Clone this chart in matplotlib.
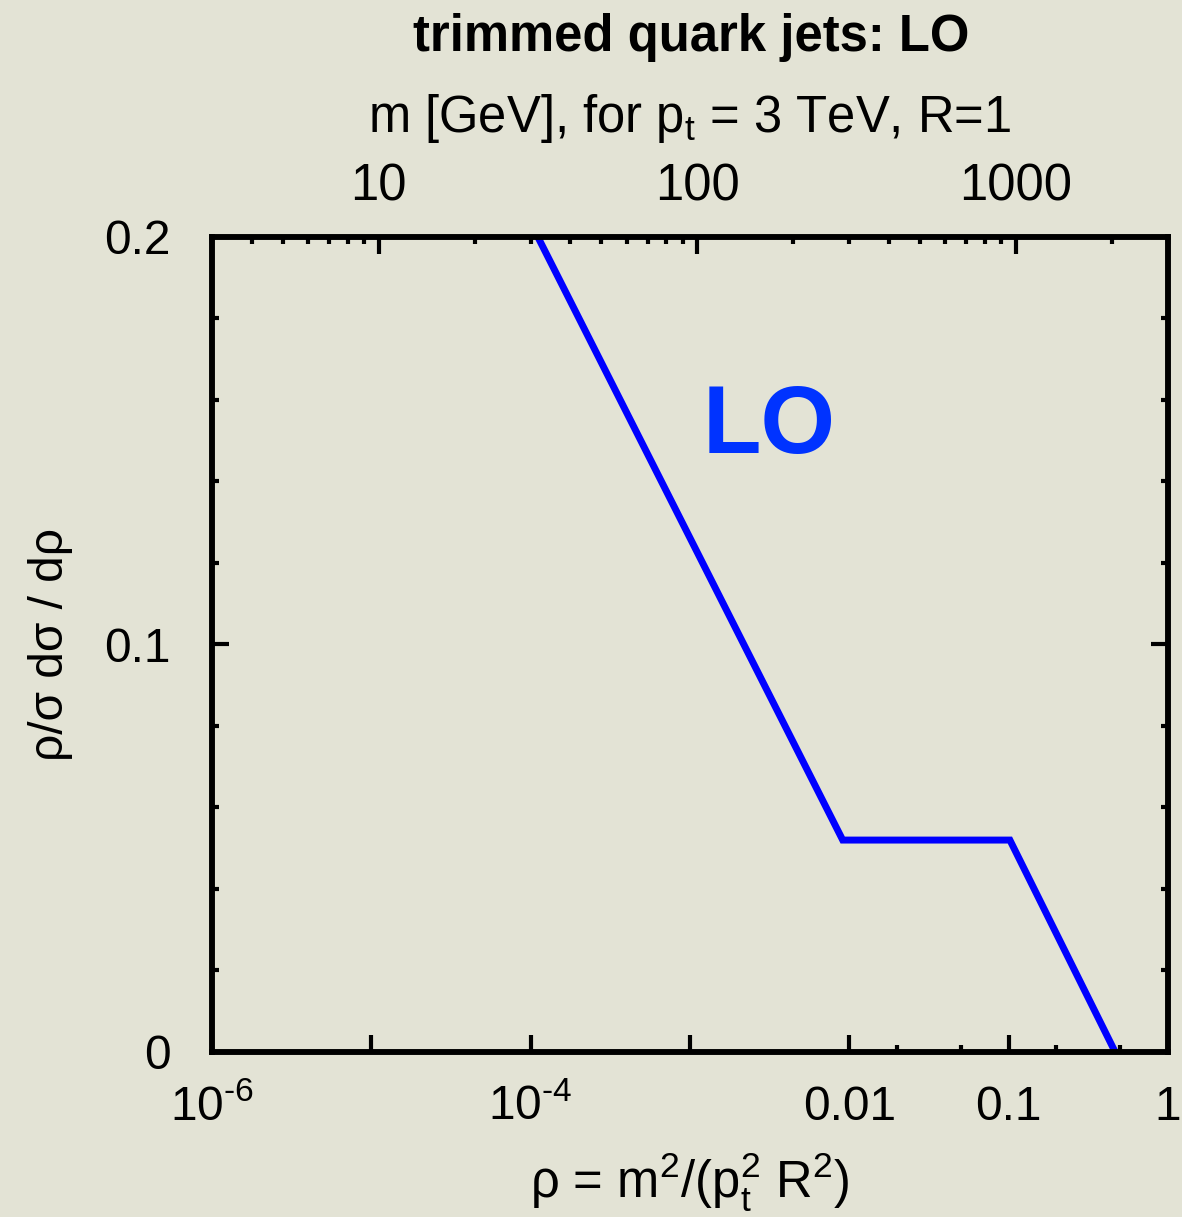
import numpy as np
import matplotlib
matplotlib.use("Agg")
from matplotlib import pyplot as plt
from matplotlib import ticker

plt.rcParams['font.family'] = ['Liberation Sans', 'DejaVu Sans']
plt.rcParams['mathtext.fontset'] = 'custom'
plt.rcParams['mathtext.rm'] = 'Liberation Sans'
plt.rcParams['mathtext.it'] = 'Liberation Sans:italic'
plt.rcParams['mathtext.bf'] = 'Liberation Sans:bold'
plt.rcParams['axes.unicode_minus'] = False

# LO curve (rho, rho/sigma dsigma/drho)
rho = [1.11e-4, 9.1e-3, 0.102, 0.467]
lo_dist = [0.2, 0.052, 0.052, 0.0]

x_major = [1e-6, 1e-5, 1e-4, 1e-3, 1e-2, 1e-1, 1]
x_minor = [0.02, 0.05, 0.2, 0.5]
x_labels = {1e-6: r'10$^{\text{-6}}$', 1e-4: r'10$^{\text{-4}}$',
            1e-2: '0.01', 1e-1: '0.1', 1: '1'}
y_major = [0, 0.1, 0.2]
y_labels = ['0', '0.1', '0.2']
m_major = [10, 100, 1000]
m_labels = ['10', '100', '1000']
pt, R = 3000.0, 1.0

bg = '#e3e3d5'
fs = 34.5
fs_big = 36.5

fig = plt.figure(figsize=(11.82, 12.17), dpi=100, facecolor=bg)
ax = fig.add_axes([0.1794, 0.1356, 0.8086, 0.6697], facecolor=bg)

ax.plot(rho, lo_dist, color='#0000ff', lw=5, solid_joinstyle='miter', clip_on=True)
ax.set_xscale('log')
ax.set_xlim(1e-6, 1)
ax.set_ylim(0, 0.2)

for s in ax.spines.values():
    s.set_linewidth(4)

ax.set_xticks(x_major)
ax.set_xticks(x_minor, minor=True)
ax.xaxis.set_major_formatter(ticker.NullFormatter())
ax.xaxis.set_minor_formatter(ticker.NullFormatter())
ax.set_yticks(y_major)
ax.set_yticklabels(y_labels)
ax.yaxis.set_minor_locator(ticker.MultipleLocator(0.02))
ax.tick_params(which='both', direction='in', width=3, right=True, top=False,
               labelsize=fs, pad=30)
ax.tick_params(which='major', length=12)
ax.tick_params(which='minor', length=5)

# bottom tick labels, aligned on baseline
for v, lab in x_labels.items():
    ax.text(v, -0.083, lab, transform=ax.get_xaxis_transform(), ha='center',
            va='baseline', fontsize=fs, clip_on=False)

ax.set_xlabel(r'$\mathregular{\rho}$ = m$^{\mathregular{2}}$/(p$_{\mathregular{t}}^{\mathregular{2}}$ R$^{\mathregular{2}}$)',
              fontsize=fs_big, labelpad=41)
ax.set_ylabel('ρ/σ dσ / dρ', fontsize=fs, labelpad=22)

# top axis in mass
ax2 = ax.twiny()
ax2.set_xscale('log')
ax2.set_xlim(pt * R * np.sqrt(1e-6), pt * R * np.sqrt(1.0))
ax2.set_xticks(m_major)
ax2.set_xticklabels(m_labels)
ax2.xaxis.set_minor_locator(ticker.LogLocator(base=10, subs=np.arange(2, 10)))
ax2.xaxis.set_minor_formatter(ticker.NullFormatter())
ax2.tick_params(which='both', direction='in', width=3, labelsize=fs_big, pad=18)
ax2.tick_params(which='major', length=12)
ax2.tick_params(which='minor', length=5)
ax2.set_xlabel(r'm [GeV], for p$_{\mathregular{t}}$ = 3 TeV, R=1', fontsize=fs_big, labelpad=22)
for s in ax2.spines.values():
    s.set_linewidth(4)

ax.text(1.2e-3, 0.153, 'LO', color='#0033ff', fontsize=69, fontweight='bold',
        ha='left', va='center')

fig.text(0.585, 0.969, 'trimmed quark jets: LO', fontsize=fs_big, fontweight='bold',
         ha='center', va='center')

fig.savefig('out.png', dpi=100, facecolor=bg)
